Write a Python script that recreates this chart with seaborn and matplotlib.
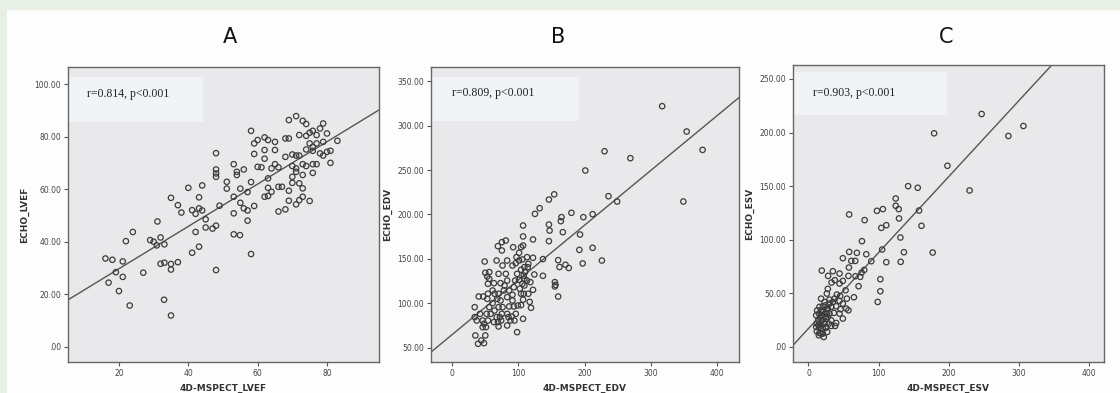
import numpy as np
import pandas as pd
import matplotlib
matplotlib.use("Agg")
import matplotlib.pyplot as plt
import seaborn as sns
from matplotlib.patches import Rectangle

# ---- data ----
lvef_mspect = [16.1, 18.1, 17.0, 19.1, 21.1, 22.0, 20.0, 21.1, 24.0, 23.1, 27.0, 29.0, 30.0, 31.1,
               30.9, 32.0, 32.0, 33.1, 33.1, 33.0, 35.0, 35.0, 35.0, 35.0, 37.0, 37.0, 38.0, 40.0,
               41.1, 41.1, 42.1, 42.1, 43.1, 43.1, 43.1, 44.0, 44.0, 45.0, 45.0, 47.0, 48.0, 48.0,
               48.0, 48.0, 48.0, 48.0, 49.0, 51.1, 51.1, 53.1, 53.1, 53.1, 53.1, 54.0, 54.0, 54.9,
               55.0, 55.0, 56.0, 56.0, 57.1, 57.1, 57.1, 58.1, 58.1, 58.1, 59.0, 59.0, 59.0, 60.0,
               60.0, 61.1, 62.0, 62.0, 62.0, 62.0, 63.0, 63.0, 63.0, 63.0, 64.0, 64.0, 65.0, 65.0,
               65.0, 66.0, 66.0, 66.0, 67.0, 68.0, 68.0, 68.0, 69.0, 69.0, 69.0, 69.0, 70.0, 70.0,
               70.0, 70.0, 71.1, 71.1, 71.1, 71.1, 71.1, 72.0, 72.0, 72.0, 72.0, 73.0, 73.0, 73.0,
               73.0, 73.0, 74.0, 74.0, 74.0, 74.0, 75.0, 75.0, 75.0, 75.9, 75.9, 75.9, 75.9, 75.9,
               77.0, 77.0, 77.0, 78.0, 78.0, 78.9, 78.9, 78.9, 80.0, 80.0, 81.0, 81.0, 83.0]
lvef_echo = [33.6, 33.1, 24.4, 28.4, 32.5, 40.2, 21.2, 26.6, 43.7, 15.7, 28.2, 40.6, 40.0, 47.7,
             38.6, 41.6, 31.6, 32.0, 39.0, 17.9, 56.7, 29.4, 31.5, 11.9, 32.2, 53.9, 51.1, 60.5,
             52.0, 35.8, 43.7, 50.6, 56.9, 52.7, 38.1, 61.4, 51.9, 48.5, 45.4, 45.0, 46.1, 29.2,
             73.7, 67.5, 66.0, 64.7, 53.7, 62.8, 60.2, 69.5, 57.1, 50.8, 42.8, 66.6, 65.4, 42.5,
             60.2, 54.8, 52.7, 67.5, 58.9, 51.9, 48.0, 82.2, 62.7, 35.3, 77.4, 73.4, 53.6, 78.7,
             68.5, 68.3, 79.7, 74.9, 71.6, 57.1, 78.7, 64.1, 60.5, 57.4, 59.0, 67.9, 78.0, 74.9,
             69.5, 68.3, 60.9, 51.5, 60.9, 52.3, 72.3, 79.3, 79.3, 86.3, 59.4, 55.6, 73.2, 62.4,
             68.8, 64.7, 87.8, 54.2, 72.8, 67.9, 66.6, 80.6, 72.8, 62.2, 55.8, 86.0, 69.5, 65.4,
             60.3, 57.1, 84.8, 80.3, 75.1, 68.8, 77.4, 55.5, 81.5, 82.2, 76.1, 74.6, 69.5, 66.2,
             80.6, 77.4, 69.5, 83.1, 73.6, 85.0, 78.0, 72.8, 81.2, 74.2, 74.6, 70.0, 78.4]

edv_mspect = [317, 354, 378, 349, 230, 269, 201, 236, 249, 212, 198, 180, 165, 164, 167, 193, 192,
              197, 212, 226, 154, 146, 132, 125, 122, 146, 147, 146, 160, 162, 171, 176, 137, 137,
              155, 155, 156, 160, 122, 107, 107, 107, 104, 122, 104, 107, 117, 119, 98, 85, 83,
              34, 34, 35, 39, 44, 48, 50, 46, 48, 40, 47, 49, 50, 53, 56, 54, 54, 53, 61, 58, 64,
              67, 63, 69, 70, 74, 75, 70, 76, 68, 70, 70, 67, 75, 69, 75, 81, 76, 81, 83, 83, 83,
              86, 91, 91, 93, 95, 86, 91, 96, 97, 92, 98, 101, 102, 104, 107, 108, 109, 109, 110,
              113, 113, 115, 108, 101, 99, 96, 90, 88, 94, 73, 78, 79, 73, 61, 46, 54, 51, 52, 42,
              37, 101, 106, 64, 56, 56, 63, 104, 106, 109, 118, 124, 114, 115, 93, 83, 72]
edv_echo = [321.9, 293.4, 272.7, 214.6, 271.2, 263.4, 249.5, 220.6, 214.6, 200.4, 197.0, 201.9,
            197.0, 192.5, 180.1, 177.5, 160.2, 144.9, 162.5, 148.2, 222.7, 216.8, 207.1, 200.7,
            171.9, 188.7, 181.9, 170.0, 148.6, 140.9, 143.5, 139.8, 149.8, 131.0, 123.9, 119.0,
            120.8, 107.7, 151.3, 187.6, 175.3, 165.1, 163.2, 115.2, 98.0, 82.6, 101.7, 95.0, 67.6,
            84.5, 75.1, 95.7, 84.5, 63.9, 54.5, 58.2, 55.2, 63.9, 73.2, 77.0, 107.7, 107.7, 147.1,
            134.4, 130.2, 127.6, 122.0, 110.8, 105.1, 100.2, 88.2, 92.0, 84.5, 78.9, 78.9, 74.0,
            80.7, 88.2, 95.7, 95.7, 105.1, 110.8, 133.2, 148.2, 159.5, 164.4, 168.9, 170.7, 142.6,
            133.2, 148.2, 125.7, 107.0, 96.5, 103.2, 109.6, 118.2, 125.7, 114.5, 142.6, 145.2,
            152.0, 163.2, 133.2, 126.5, 116.4, 110.8, 104.1, 131.3, 140.7, 127.6, 135.2, 125.7,
            152.0, 144.5, 110.8, 148.2, 97.6, 88.2, 85.2, 80.7, 80.7, 103.2, 114.5, 120.1, 122.7,
            114.5, 80.7, 80.7, 73.2, 88.2, 88.2, 80.7, 156.9, 149.4, 110.8, 95.7, 135.2, 122.7,
            137.8, 122.0, 120.1, 123.9, 132.5, 140.7, 110.8, 96.5, 88.2, 84.5]

esv_mspect = [246.7, 306.2, 284.8, 179.0, 198.0, 229.5, 142.0, 155.7, 157.6, 161.0, 124.3, 124.3,
              128.6, 129.0, 106.0, 97.6, 103.8, 110.9, 131.0, 131.4, 136.0, 177.0, 110.9, 105.0,
              102.4, 102.4, 98.6, 89.5, 58.0, 80.0, 76.2, 69.0, 82.4, 58.0, 49.0, 61.0, 66.7, 57.6,
              75.7, 79.5, 73.8, 67.0, 57.0, 71.4, 64.8, 19.0, 34.8, 44.3, 28.0, 37.6, 32.9, 44.3,
              49.0, 52.9, 54.8, 53.8, 57.0, 27.6, 26.2, 40.5, 45.2, 44.3, 49.0, 39.5, 36.2, 39.5,
              38.0, 25.2, 18.0, 22.9, 30.0, 15.7, 12.4, 11.0, 13.8, 15.7, 11.9, 14.8, 18.0, 20.5,
              22.9, 25.2, 26.2, 21.4, 19.0, 16.7, 18.0, 20.5, 24.3, 27.6, 30.0, 32.4, 29.0, 26.7,
              21.9, 17.1, 14.3, 11.9, 17.1, 19.5, 22.9, 26.2, 32.4, 34.8, 30.0, 37.1, 11.0, 14.8,
              22.4, 44.3, 49.0, 45.7, 32.4, 15.7, 20.5, 24.3, 27.6, 24.3]
esv_echo = [217.3, 206.1, 196.8, 199.3, 169.0, 146.0, 150.0, 148.5, 127.3, 113.0, 138.5, 131.7,
            128.6, 119.9, 128.6, 127.0, 111.1, 113.6, 102.1, 79.4, 88.4, 88.1, 79.1, 90.9, 63.2,
            52.0, 42.0, 80.0, 123.6, 118.3, 98.7, 87.8, 86.5, 88.7, 82.8, 80.3, 80.3, 74.1, 69.4,
            71.9, 65.4, 66.0, 66.3, 56.7, 46.4, 71.3, 70.7, 68.5, 66.3, 62.3, 60.1, 59.2, 61.6,
            52.9, 45.1, 35.8, 34.2, 54.2, 49.8, 48.9, 47.6, 43.0, 40.5, 38.0, 31.8, 22.4, 19.6,
            18.1, 45.1, 42.0, 44.2, 37.4, 34.2, 29.6, 24.9, 18.7, 14.6, 10.9, 12.5, 17.1, 21.8,
            26.5, 31.1, 32.7, 29.6, 28.0, 34.2, 38.0, 38.9, 35.8, 31.1, 24.9, 21.8, 14.0, 9.3,
            17.1, 20.2, 21.8, 22.4, 24.9, 28.0, 35.8, 37.4, 42.0, 40.5, 45.1, 18.7, 31.1, 21.8,
            31.1, 26.5, 35.2, 19.6, 13.1, 12.5, 18.7, 28.0, 31.8]

panel_titles = ["A", "B", "C"]
x_labels = ["4D-MSPECT_LVEF", "4D-MSPECT_EDV", "4D-MSPECT_ESV"]
y_labels = ["ECHO_LVEF", "ECHO_EDV", "ECHO_ESV"]
stats_text = ["r=0.814, p<0.001", "r=0.809, p<0.001", "r=0.903, p<0.001"]
x_ticks = [[20, 40, 60, 80], [0, 100, 200, 300, 400], [0, 100, 200, 300, 400]]
y_ticks = [[0, 20, 40, 60, 80, 100], [50, 100, 150, 200, 250, 300, 350], [0, 50, 100, 150, 200, 250]]

panels = [
    (lvef_mspect, lvef_echo, (5.3, 95), (-5.8, 106.5)),
    (edv_mspect, edv_echo, (-32, 433), (34, 366)),
    (esv_mspect, esv_echo, (-22, 421), (-14, 263)),
]

sns.set_style("white")
plt.rcParams["font.family"] = ["DejaVu Sans"]

fig = plt.figure(figsize=(11.2, 3.93), dpi=100)
fig.patch.set_facecolor("#e8efe5")
# white inner panel
fig.patches.append(Rectangle((7 / 1120, 0), 1, 1 - 10 / 393, transform=fig.transFigure,
                             facecolor="#fdfdfd", edgecolor="none", zorder=-5))

# axes boxes in pixels: left, right, top, bottom
boxes = [(68, 379, 67, 362), (431, 739, 67, 362), (793, 1104, 65, 362)]
title_x = [230, 558, 946]
# stats box (x0, x1, y0, y1) in pixels, plus text baseline centre
stat_boxes = [(67, 203, 77, 122), (432, 579, 77, 121), (793, 947, 72, 115)]
stat_text_y = [94, 93, 93]

line_col = "#555555"
for i, (xs, ys, xl, yl) in enumerate(panels):
    l, r, t, b = boxes[i]
    ax = fig.add_axes([l / 1120, 1 - b / 393, (r - l) / 1120, (b - t) / 393])
    ax.set_zorder(1)
    ax.set_facecolor("#e9e9eb")
    df = pd.DataFrame({"x": xs, "y": ys})
    ax.set_xlim(*xl)
    ax.set_ylim(*yl)

    sx0, sx1, sy0, sy1 = stat_boxes[i]
    ax.add_patch(Rectangle((sx0 / 1120, 1 - sy1 / 393), (sx1 - sx0) / 1120, (sy1 - sy0) / 393,
                           transform=fig.transFigure, facecolor="#f1f4f7", edgecolor="none",
                           zorder=1))
    ax.text((sx0 + 20) / 1120, 1 - stat_text_y[i] / 393, stats_text[i], family="Liberation Serif",
            fontsize=8.5, va="center", ha="left", color="#222222", zorder=5,
            transform=fig.transFigure)

    sns.regplot(data=df, x="x", y="y", ax=ax, scatter=False, ci=None, truncate=False,
                line_kws={"color": line_col, "lw": 1.0, "zorder": 2})
    sns.scatterplot(data=df, x="x", y="y", ax=ax, marker="o", s=15, facecolor="none",
                    edgecolor="#3c3c3c", linewidth=0.9, zorder=3)
    ax.set_xlim(*xl)
    ax.set_ylim(*yl)

    ax.set_xticks(x_ticks[i])
    ax.set_yticks(y_ticks[i])
    ax.set_yticklabels([f"{v:.2f}".lstrip("0") if v == 0 else f"{v:.2f}" for v in y_ticks[i]])
    ax.tick_params(axis="both", direction="out", length=3, width=0.8, color="#555555",
                   labelsize=5.5, labelcolor="#444444", pad=2, left=True, bottom=True)
    for sp in ax.spines.values():
        sp.set_color("#666666")
        sp.set_linewidth(1.0)
    ax.set_xlabel(x_labels[i], fontsize=6.5, fontweight="bold", color="#333333", labelpad=4)
    ax.set_ylabel(y_labels[i], fontsize=6.5, fontweight="bold", color="#333333", labelpad=4)
    fig.text(title_x[i] / 1120, 1 - 37 / 393, panel_titles[i], fontsize=15, ha="center",
             va="center", color="#111111")

fig.savefig("out.png", dpi=100)
